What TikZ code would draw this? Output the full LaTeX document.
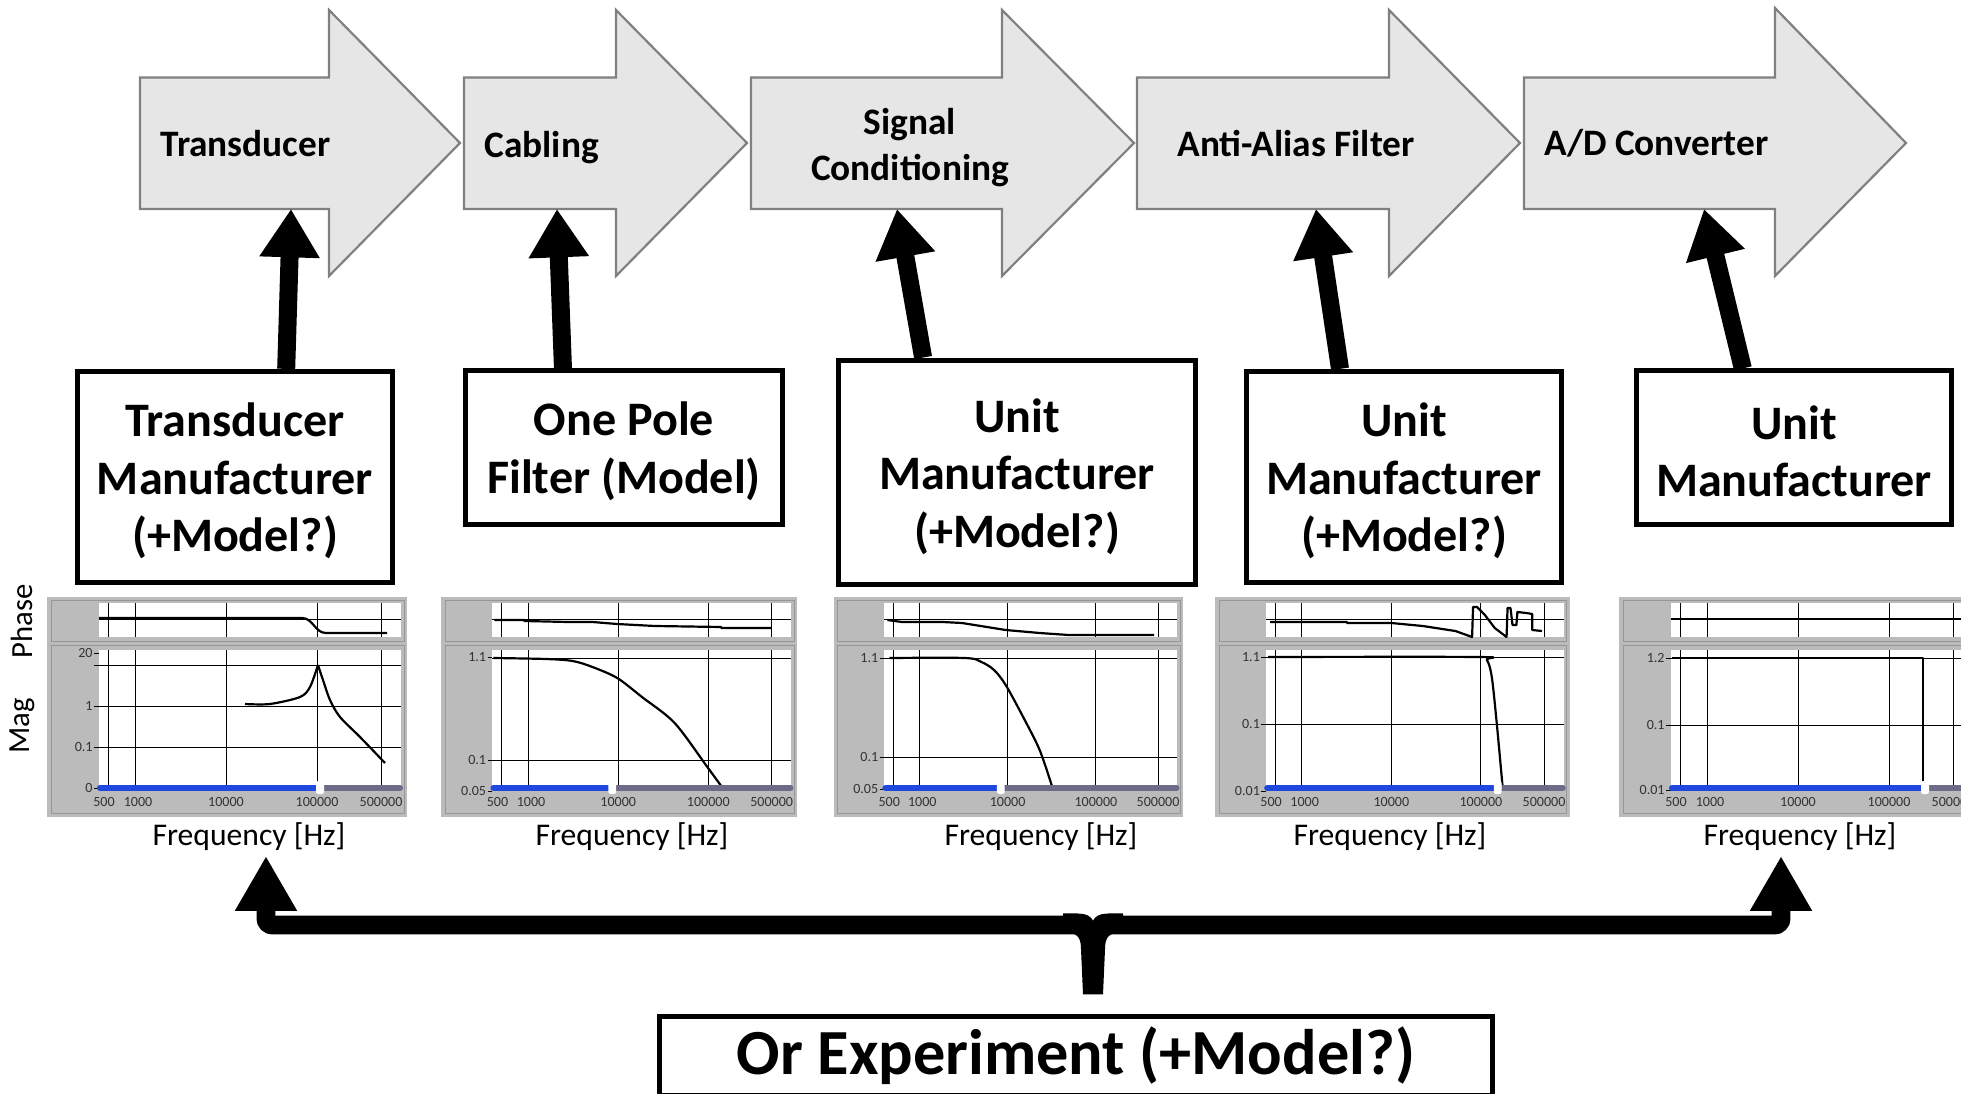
\documentclass[tikz,border=0pt]{standalone}
\usepackage{fontspec}
\setmainfont{Carlito}
\usetikzlibrary{arrows.meta,calc}

\definecolor{flowfill}{RGB}{230,230,230}
\definecolor{flowedge}{RGB}{128,128,128}
\definecolor{panelgray}{RGB}{187,187,187}
\definecolor{paneledge}{RGB}{150,150,150}
\definecolor{sliderblue}{RGB}{30,72,222}
\definecolor{slidergray}{RGB}{108,108,136}

\tikzset{
  gridline/.style={black, line width=0.45pt},
  datacurve/.style={black, line width=1pt, line join=round},
  xtick/.style={font=\fontsize{6.4}{7}\selectfont, inner sep=0pt, text=black!80},
  ytick/.style={xtick, anchor=east},
  slider/.style={line width=2.8pt, line cap=round},
}

% frame, panels, grid and frequency ticks of one chart (local pixels)
\newcommand{\chartbase}[1]{%
  \fill[panelgray] (0,0) rectangle (360,220);
  \draw[paneledge] (4,3) rectangle (357,44);
  \draw[paneledge] (4,48) rectangle (357,216);
  \fill[white] (52,6) rectangle (354,40);
  \fill[white] (52,53) rectangle (354,193);
  \draw[gridline] (52,22) -- (354,22);
  \foreach \gx/\lx/\lab [count=\i] in {61/57/500,88/91/1000,179/179/10000,270/270/100000,334/334/500000}{
    \draw[gridline] (\gx,6) -- (\gx,40);
    \draw[gridline] (\gx,53) -- (\gx,193);
    \node[xtick] (xtick#1\i) at (\lx,205) {\lab};
  }
}
% slider under the magnitude plot
\newcommand{\chartslider}[1]{%
  \draw[slider, sliderblue] (53,191) -- (#1,191);
  \draw[slider, slidergray] (#1,191) -- (353,191);
  \fill[white, rounded corners=1pt] (#1-4,184) rectangle (#1+4,197);
}

\begin{document}
\begin{tikzpicture}[x=0.016cm, y=-0.016cm,
  flowarrow/.style={fill=flowfill, draw=flowedge, line width=1pt},
  flowlabel/.style={font=\bfseries\fontsize{17}{21}\selectfont, inner sep=0pt},
  mfrbox/.style={draw, line width=2.3pt, fill=white, inner sep=0pt},
  boxtext/.style={align=center, inner sep=0pt, yshift=-1.8pt,
    font=\bfseries\fontsize{21.9}{26.2}\selectfont},
  feedarrow/.style={line width=8.2pt, -{Triangle[length=22pt,width=26pt]}},
  bracearrow/.style={line width=8.6pt, rounded corners=3pt,
    {Triangle[length=25pt,width=26.5pt]}-{Triangle[length=25pt,width=26.5pt]}},
  freqlabel/.style={font=\fontsize{14.4}{16}\selectfont, inner sep=0pt},
  axislabel/.style={font=\fontsize{14}{16}\selectfont, inner sep=0pt, rotate=90},
  exptbox/.style={draw, line width=2.3pt, inner sep=0pt, minimum width=13.34cm,
    minimum height=1.25cm, font=\bfseries\fontsize{29.3}{33}\selectfont}]
\useasboundingbox (0,0) rectangle (1961,1094);
\clip (0,0) rectangle (1961,1094);

% signal chain
\draw[flowarrow] (140,77.5) -- (329,77.5) -- (329,10) -- (460,143) -- (329,276) -- (329,209) -- (140,209) -- cycle;
\draw[flowarrow] (464,77.5) -- (616,77.5) -- (616,10) -- (747,143) -- (616,276) -- (616,209) -- (464,209) -- cycle;
\draw[flowarrow] (751,77.5) -- (1002,77.5) -- (1002,10) -- (1134,143) -- (1002,276) -- (1002,209) -- (751,209) -- cycle;
\draw[flowarrow] (1137,77.5) -- (1389,77.5) -- (1389,10) -- (1520,143) -- (1389,276) -- (1389,209) -- (1137,209) -- cycle;
\draw[flowarrow] (1524,77.5) -- (1775,77.5) -- (1775,8) -- (1906,143) -- (1775,276) -- (1775,209) -- (1524,209) -- cycle;
\node[flowlabel, anchor=west] (lblTrans) at (160,144) {Transducer};
\node[flowlabel, anchor=west] (lblCable) at (484,148) {Cabling};
\node[flowlabel, align=center] (lblSignal) at (910,148) {Signal\\Conditioning};
\node[flowlabel, anchor=west] (lblFilter) at (1177,144) {Anti-Alias Filter};
\node[flowlabel, anchor=west] (lblADC) at (1544,143) {A/D Converter};
\coordinate (inTrans) at (291,209);
\coordinate (inCable) at (557,209);
\coordinate (inSignal) at (897,209);
\coordinate (inFilter) at (1316,209);
\coordinate (inADC) at (1704,209);

% sources of the responses
\node[mfrbox, minimum width=5.04cm, minimum height=3.38cm,
  label={[boxtext]center:Transducer\\Manufacturer\\(+Model?)}] (mfrTrans) at (235,477) {};
\node[mfrbox, minimum width=5.06cm, minimum height=2.45cm,
  label={[boxtext]center:One Pole\\Filter (Model)}] (mfrCable) at (624,447.5) {};
\node[mfrbox, minimum width=5.7cm, minimum height=3.6cm,
  label={[boxtext]center:Unit\\Manufacturer\\(+Model?)}] (mfrSignal) at (1017,472.5) {};
\node[mfrbox, minimum width=5.04cm, minimum height=3.38cm,
  label={[boxtext]center:Unit\\Manufacturer\\(+Model?)}] (mfrFilter) at (1404,477) {};
\node[mfrbox, minimum width=5.04cm, minimum height=2.45cm,
  label={[boxtext]center:Unit\\Manufacturer}] (mfrADC) at (1794,447.5) {};
\draw[feedarrow] ($(mfrTrans.north west)!.66!(mfrTrans.north east)$) -- (inTrans);
\draw[feedarrow] ($(mfrCable.north west)!.31!(mfrCable.north east)$) -- (inCable);
\draw[feedarrow] ($(mfrSignal.north west)!.24!(mfrSignal.north east)$) -- (inSignal);
\draw[feedarrow] ($(mfrFilter.north west)!.30!(mfrFilter.north east)$) -- (inFilter);
\draw[feedarrow] ($(mfrADC.north west)!.34!(mfrADC.north east)$) -- (inADC);

% frequency responses
\node[axislabel] (phaseLbl) at (22,621) {Phase};
\node[axislabel] (magLbl) at (22,726) {Mag};

\begin{scope}[shift={(47,597)}]
  \chartbase{A}
  \foreach \gy/\lab [count=\i] in {56/20,109/1,150/0.1,191/0}{
    \node[ytick] (ytickA\i) at (46,\gy) {\lab};
    \draw[gridline] (47,\gy) -- (52,\gy);
  }
  \draw[gridline] (47,68) -- (354,68);
  \foreach \gy in {109,150} \draw[gridline] (52,\gy) -- (354,\gy);
  \draw[datacurve] plot[smooth] coordinates {(198,107) (223,107) (253,100) (263,90) (271,68)};
  \draw[datacurve] plot[smooth] coordinates {(271,68) (276,83) (283,103) (293,120) (313,140) (338,166)};
  \draw[datacurve] (52,21) -- (255,21) .. controls (266,21) and (268,36) .. (279,36) -- (340,36);
  \chartslider{273}
\end{scope}

\begin{scope}[shift={(441,597)}, xscale=0.99]
  \chartbase{B}
  \foreach \gy/\lab [count=\i] in {60/1.1,163/0.1,194/0.05}{
    \node[ytick] (ytickB\i) at (46,\gy) {\lab};
    \draw[gridline] (47,\gy) -- (52,\gy);
  }
  \foreach \gy in {61,163} \draw[gridline] (52,\gy) -- (354,\gy);
  \draw[datacurve] plot[smooth] coordinates {(53,61) (106,62) (133,64) (153,70) (178,81) (203,100) (236,126) (269,170) (286,193)};
  \draw[datacurve] (54,23) -- (84,23) -- (84,24) -- (129,25) -- (153,25) -- (178,27) -- (216,29) -- (283,30) -- (283,31) -- (334,31);
  \chartslider{173}
\end{scope}

\begin{scope}[shift={(834,597)}, xscale=0.97]
  \chartbase{C}
  \foreach \gy/\lab [count=\i] in {61/1.1,160/0.1,192/0.05}{
    \node[ytick] (ytickC\i) at (46,\gy) {\lab};
    \draw[gridline] (47,\gy) -- (52,\gy);
  }
  \foreach \gy in {61,160} \draw[gridline] (52,\gy) -- (354,\gy);
  \draw[datacurve] plot[smooth] coordinates {(57,61) (135,61) (152,65) (165,73) (177,88) (195,120) (212,153) (225,190)};
  \draw[datacurve] (55,23) -- (70,25) -- (112,25) -- (132,26) -- (177,33) -- (212,36) -- (242,38) -- (330,38);
  \chartslider{172}
\end{scope}

\begin{scope}[shift={(1215,597)}, xscale=0.985]
  \chartbase{D}
  \foreach \gy/\lab [count=\i] in {60/1.1,127/0.1,194/0.01}{
    \node[ytick] (ytickD\i) at (46,\gy) {\lab};
    \draw[gridline] (47,\gy) -- (52,\gy);
  }
  \foreach \gy in {60,127} \draw[gridline] (52,\gy) -- (354,\gy);
  \draw[datacurve] plot[smooth] coordinates {(54,60) (267,60) (276,63) (281,80) (286,126) (292,190)};
  \draw[datacurve] (56,25) -- (134,25) -- (134,26) -- (179,26) -- (211,29) -- (244,34) -- (261,40) -- (262,10) -- (266,10) -- (274,18) -- (284,31) -- (296,40) -- (297,11) -- (300,11) -- (302,28) -- (306,28) -- (307,15) -- (316,16) -- (322,17) -- (322,33) -- (332,34);
  \chartslider{287}
\end{scope}

\begin{scope}[shift={(1619,597)}]
  \chartbase{E}
  \foreach \gy/\lab [count=\i] in {61/1.2,128/0.1,193/0.01}{
    \node[ytick] (ytickE\i) at (46,\gy) {\lab};
    \draw[gridline] (47,\gy) -- (52,\gy);
  }
  \foreach \gy in {61,128} \draw[gridline] (52,\gy) -- (354,\gy);
  \draw[datacurve] (53,61) -- (304,61) -- (304,186);
  \draw[datacurve] (52,22) -- (354,22);
  \chartslider{306}
\end{scope}

\node[freqlabel] (freqA) at (249,837) {Frequency [Hz]};
\node[freqlabel] (freqB) at (632,837) {Frequency [Hz]};
\node[freqlabel] (freqC) at (1041,837) {Frequency [Hz]};
\node[freqlabel] (freqD) at (1390,837) {Frequency [Hz]};
\node[freqlabel] (freqE) at (1800,837) {Frequency [Hz]};

% experiment covers the whole chain
\node[exptbox] (expt) at (1076,1056) {Or Experiment (+Model?)};
\coordinate (tipA) at (266,856);
\coordinate (tipE) at (1781,856);
\coordinate (stemfoot) at ($(expt.north)+(17,-20)$);
\draw[bracearrow] (tipA) -- (266,925) -- (1781,925) -- (tipE);
\begin{scope}[shift={(stemfoot)}]
  \fill (-10,0) -- (-12,-45) .. controls (-12,-58) and (-16,-62) .. (-30,-62) -- (-30,-81)
    -- (30,-81) -- (30,-62) .. controls (16,-62) and (12,-58) .. (12,-45) -- (10,0) -- cycle;
  \fill[white] (-15,-84) -- (-15,-81) .. controls (-6,-81) and (-2,-78) .. (0,-74)
    .. controls (2,-78) and (6,-81) .. (15,-81) -- (15,-84) -- cycle;
\end{scope}
\end{tikzpicture}
\end{document}
